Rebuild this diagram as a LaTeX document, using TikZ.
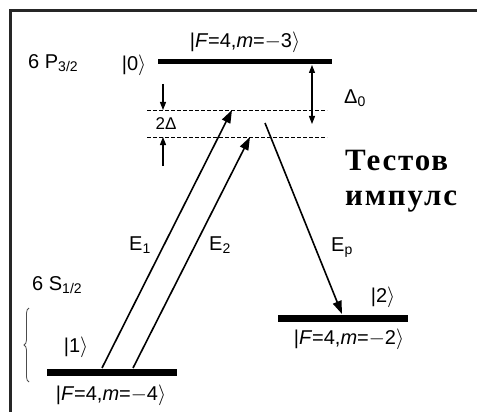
\documentclass[tikz,border=0pt]{standalone}
\usepackage{fontspec}
\setmainfont{Liberation Sans}
\newfontfamily\cyrfont[LetterSpace=6]{Liberation Serif}
\usetikzlibrary{arrows.meta, decorations.pathreplacing}

\newcommand{\ketlbl}[1]{|#1$\rangle$}

\begin{document}
\begin{tikzpicture}[
    x=1pt, y=-1pt,
    lvl/.style={line width=7pt},
    virt/.style={dash pattern=on 4pt off 2pt, line width=0.9pt},
    field/.style={-{Triangle[length=13pt, width=9pt]}, line width=1.6pt},
    gap/.style={-{Triangle[length=8pt, width=6pt]}, line width=1.1pt},
    lbl/.style={font=\fontsize{20}{24}\selectfont, inner sep=0pt},
    probe/.style={font=\cyrfont\bfseries\fontsize{31}{34}\selectfont, inner sep=0pt, anchor=west}
]
\useasboundingbox (0,0) rectangle (477,412);

% Frame
\draw[line width=3pt, black!85] (477,11) -- (10,11) -- (10,412);

% Levels
\coordinate (l0w) at (158,62);  \coordinate (l0e) at (332,62);
\coordinate (l1w) at (47,372);  \coordinate (l1e) at (177,372);
\coordinate (l2w) at (278,318); \coordinate (l2e) at (408,318);
\draw[lvl, line width=5pt] (l0w) -- (l0e);
\draw[lvl] (l1w) -- (l1e);
\draw[lvl] (l2w) -- (l2e);

% Virtual levels
\coordinate (vaw) at (147,110); \coordinate (vae) at (327,110);
\coordinate (vbw) at (147,137); \coordinate (vbe) at (327,137);
\draw[virt] (vaw) -- (vae);
\draw[virt] (vbw) -- (vbe);

% Detunings
\coordinate (d0a) at (312,65);  \coordinate (d0b) at (312,124);
\draw[gap, {Triangle[length=8pt, width=6pt]}-{Triangle[length=8pt, width=6pt]}] (d0a) -- (d0b);
\coordinate (dta) at (163,84);  \coordinate (dtb) at (163,110);
\coordinate (dtc) at (163,166); \coordinate (dtd) at (163,137);
\draw[gap] (dta) -- (dtb);
\draw[gap] (dtc) -- (dtd);

% Fields
\coordinate (e1s) at (102,368); \coordinate (e1t) at (232,110);
\coordinate (e2s) at (133,368); \coordinate (e2t) at (250,137);
\coordinate (eps) at (265,123); \coordinate (ept) at (342,314);
\draw[field] (e1s) -- (e1t);
\draw[field] (e2s) -- (e2t);
\draw[field] (eps) -- (ept);

% Brace
\draw[decorate, decoration={brace, amplitude=5pt}, line width=0.8pt, black!70] (29,382) -- (29,308);

% Labels
\node[lbl] (top) at (245,42) {\ketlbl{\textit{F}=4,\textit{m}=$-$3}};
\node[lbl, anchor=west] (p32) at (28,63) {6 P\textsubscript{3/2}};
\node[lbl] (k0) at (134,65) {\ketlbl{0}};
\node[lbl, anchor=west] (d0) at (344,98) {Δ\textsubscript{0}};
\node[lbl, font=\fontsize{17}{20}\selectfont] (dd) at (166,124) {2Δ};
\node[lbl] (e1) at (140,245) {E\textsubscript{1}};
\node[lbl] (e2) at (220,245) {E\textsubscript{2}};
\node[lbl] (ep) at (342,248) {E\textsubscript{p}};
\node[lbl, anchor=west] (s12) at (32,285) {6 S\textsubscript{1/2}};
\node[lbl] (k1) at (76,347) {\ketlbl{1}};
\node[lbl] (bot) at (111,395) {\ketlbl{\textit{F}=4,\textit{m}=$-$4}};
\node[lbl] (k2) at (383,297) {\ketlbl{2}};
\node[lbl] (mid) at (349,339) {\ketlbl{\textit{F}=4,\textit{m}=$-$2}};
\node[probe] (pr1) at (345,161) {Тестов};
\node[probe] (pr2) at (345,202) {импулс};

\end{tikzpicture}
\end{document}
